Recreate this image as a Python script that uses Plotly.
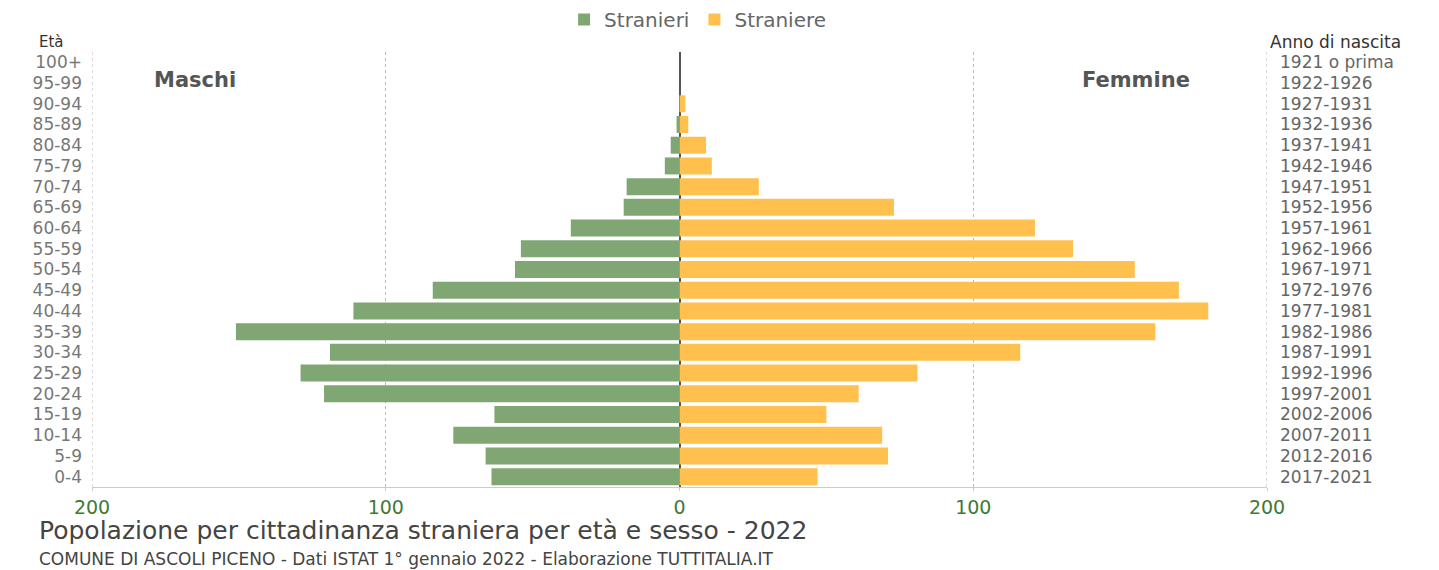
import plotly.graph_objects as go

# Age classes (bottom to top) and matching birth-year ranges
eta = ["0-4", "5-9", "10-14", "15-19", "20-24", "25-29", "30-34", "35-39",
       "40-44", "45-49", "50-54", "55-59", "60-64", "65-69", "70-74",
       "75-79", "80-84", "85-89", "90-94", "95-99", "100+"]
anno_nascita = ["2017-2021", "2012-2016", "2007-2011", "2002-2006", "1997-2001",
                "1992-1996", "1987-1991", "1982-1986", "1977-1981", "1972-1976",
                "1967-1971", "1962-1966", "1957-1961", "1952-1956", "1947-1951",
                "1942-1946", "1937-1941", "1932-1936", "1927-1931", "1922-1926",
                "1921 o prima"]

# Foreign residents by age class
stranieri = [64, 66, 77, 63, 121, 129, 119, 151, 111, 84, 56, 54, 37, 19, 18,
             5, 3, 1, 0, 0, 0]
straniere = [47, 71, 69, 50, 61, 81, 116, 162, 180, 170, 155, 134, 121, 73, 27,
             11, 9, 3, 2, 0, 0]

x_ticks = [-200, -100, 0, 100, 200]
x_tick_labels = ["200", "100", "0", "100", "200"]

VERDE = "#7fa673"
ARANCIO = "#ffc04d"
FONT = "DejaVu Sans"

fig = go.Figure()
fig.add_trace(go.Bar(
    y=eta, x=[-v for v in stranieri], orientation="h", name="Stranieri",
    marker=dict(color=VERDE, line=dict(width=0)),
))
fig.add_trace(go.Bar(
    y=eta, x=straniere, orientation="h", name="Straniere",
    marker=dict(color=ARANCIO, line=dict(width=0)),
))

n = len(eta)
fig.update_layout(
    width=1439, height=570,
    margin=dict(l=92, r=172, t=52, b=83),
    paper_bgcolor="white", plot_bgcolor="white",
    barmode="overlay", bargap=0.18,
    font=dict(family=FONT, color="#666"),
    showlegend=True,
    legend=dict(
        orientation="h", xref="container", yref="container",
        x=0.392, xanchor="left", y=1.0, yanchor="top",
        font=dict(size=20, color="#666"),
        itemwidth=30, traceorder="normal",
    ),
    xaxis=dict(
        range=[-200, 200], tickvals=x_ticks, ticktext=x_tick_labels,
        tickfont=dict(size=19, color="#3d7a35"),
        showgrid=True, gridcolor="#bbbbbb", griddash="dot", gridwidth=1,
        zeroline=True, zerolinecolor="#555555", zerolinewidth=2,
        showline=True, linecolor="#cccccc", linewidth=1,
        ticks="outside", ticklen=3, tickcolor="#cccccc",
        fixedrange=True,
    ),
    yaxis=dict(
        type="category", categoryorder="array", categoryarray=eta,
        range=[-0.5, n - 0.5],
        tickmode="array", tickvals=eta, ticktext=eta,
        tickfont=dict(size=17, color="#777"),
        ticks="", showgrid=False, zeroline=False, showline=False,
        ticklabelstandoff=9,
    ),
    yaxis2=dict(
        overlaying="y", side="right", type="linear",
        range=[-0.5, n - 0.5],
        tickmode="array", tickvals=list(range(n)), ticktext=anno_nascita,
        tickfont=dict(size=17, color="#666"),
        ticks="", showgrid=False, zeroline=False, showline=False,
        ticklabelstandoff=12,
    ),
)

# invisible trace anchoring the birth-year axis
fig.add_trace(go.Scatter(x=[0], y=[0], yaxis="y2", mode="markers",
                         marker=dict(opacity=0), showlegend=False,
                         hoverinfo="skip"))

# dotted guides at the outer ticks (plot edges)
for xv in (x_ticks[0], x_ticks[-1]):
    fig.add_shape(type="line", xref="x", yref="paper", x0=xv, x1=xv, y0=0, y1=1,
                  line=dict(color="#bbbbbb", width=1, dash="dot"), layer="below")

annots = [
    dict(text="Età", x=37, y=42, size=15, color="#333"),
    dict(text="Anno di nascita", x=1268, y=42, size=17, color="#333"),
    dict(text="<b>Maschi</b>", x=152, y=80, size=21, color="#555"),
    dict(text="<b>Femmine</b>", x=1080, y=80, size=21, color="#555"),
    dict(text="Popolazione per cittadinanza straniera per età e sesso - 2022",
         x=37, y=530, size=25, color="#444"),
    dict(text="COMUNE DI ASCOLI PICENO - Dati ISTAT 1° gennaio 2022 - Elaborazione TUTTITALIA.IT",
         x=37, y=559, size=17, color="#444"),
]
for a in annots:
    fig.add_annotation(
        text=a["text"], xref="paper", yref="paper",
        x=(a["x"] - 92) / (1439 - 92 - 172), xanchor="left",
        y=1 - (a["y"] - 52) / (570 - 52 - 83), yanchor="middle",
        showarrow=False, font=dict(family=FONT, size=a["size"], color=a["color"]),
    )

fig.write_html("out.html")
